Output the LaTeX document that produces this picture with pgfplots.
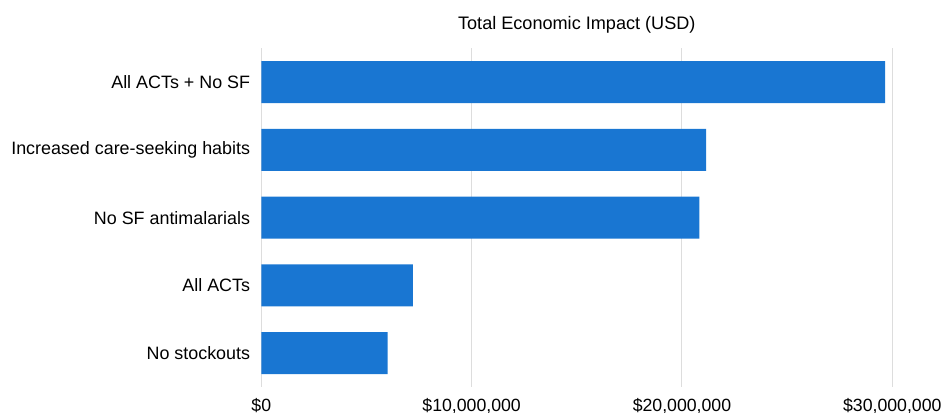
\documentclass[border=0pt]{standalone}
\usepackage{pgfplots}
\pgfplotsset{compat=1.18}
\usepackage{fontspec}
\setmainfont{Liberation Sans}
\definecolor{barblue}{HTML}{1976D2}
\definecolor{gridgray}{HTML}{DDDDDD}
\begin{document}
\begin{tikzpicture}
\begin{axis}[
  scale only axis, width=631bp, height=338.7bp,
  xbar, bar width=42bp,
  xmin=0, xmax=30000000,
  ymin=-0.5, ymax=4.5, y dir=reverse,
  ytick={0,1,2,3,4},
  yticklabels={All ACTs + No SF, Increased care-seeking habits, No SF antimalarials, All ACTs, No stockouts},
  xtick={0,10000000,20000000,30000000},
  xticklabels={{\$0},{\$10,000,000},{\$20,000,000},{\$30,000,000}},
  scaled x ticks=false,
  xmajorgrids, major grid style={draw=gridgray, line width=1bp},
  axis line style={draw=none},
  major tick length=0pt,
  tick style={draw=none},
  xticklabel style={font=\fontsize{17.7bp}{21bp}\selectfont, anchor=base, inner sep=0pt, yshift=-24bp},
  yticklabel style={font=\fontsize{17.9bp}{21bp}\selectfont, anchor=east, inner sep=0pt, xshift=-11bp},
  every axis title/.style={at={(0.5,1)}, anchor=base, yshift=19bp, font=\fontsize{18.1bp}{21bp}\selectfont},
  title={Total Economic Impact (USD)},
]
\addplot[fill=barblue, draw=none] coordinates {(29660000,0) (21150000,1) (20830000,2) (7210000,3) (6010000,4)};
\end{axis}
\pgfresetboundingbox
\path[use as bounding box] ([xshift=-261.3bp,yshift=-26bp]current axis.south west) rectangle ([xshift=50.7bp,yshift=48.3bp]current axis.north east);
\end{tikzpicture}
\end{document}
